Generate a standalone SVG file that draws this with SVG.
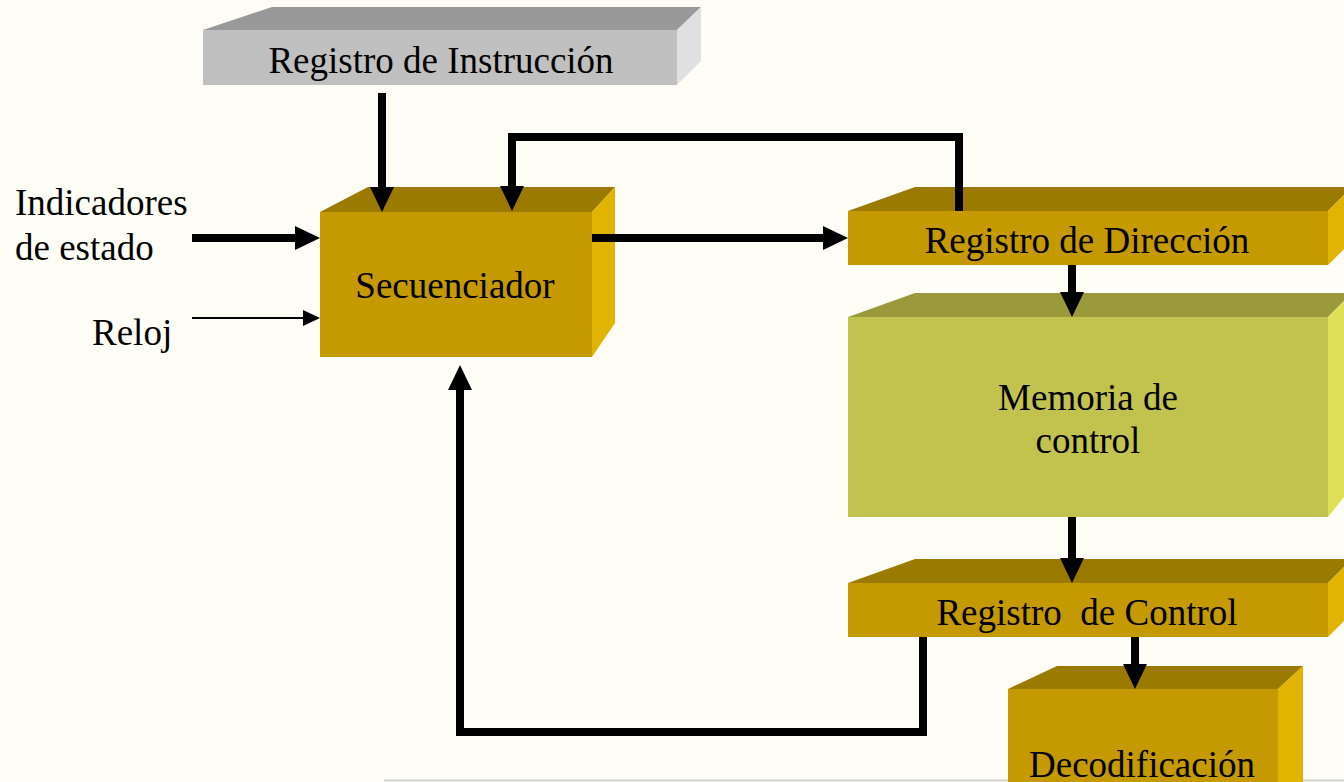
<svg xmlns="http://www.w3.org/2000/svg" width="1344" height="782" viewBox="0 0 1344 782">
<style>
text{font-family:"Liberation Serif","Times New Roman",serif;font-size:37px;fill:#000}
.c{text-anchor:middle}
.gt{fill:#999999}.gf{fill:#c0c0c0}.gr{fill:#e0e0e0}
.ot{fill:#9a7b00}.of{fill:#c49a00}.or{fill:#e0b400}
.yt{fill:#9a9a3c}.yf{fill:#c2c24e}.yr{fill:#e0e058}
.thick{fill:none;stroke:#000;stroke-width:8}
.thin{fill:none;stroke:#000;stroke-width:2}
</style>
<defs>
<marker id="ah" markerUnits="userSpaceOnUse" markerWidth="30" markerHeight="30" refX="0" refY="12" orient="auto" overflow="visible"><path d="M0,0 L25,12 L0,24 z" fill="#000"/></marker>
<marker id="ahs" markerUnits="userSpaceOnUse" markerWidth="20" markerHeight="20" refX="0" refY="8" orient="auto" overflow="visible"><path d="M0,0 L17,8 L0,16 z" fill="#000"/></marker>
</defs>
<rect width="1344" height="782" fill="#fefef6"/>
<line x1="384" y1="780.5" x2="1344" y2="780.5" stroke="#d0d0d0" stroke-width="2"/>

<g id="registro-instruccion">
<polygon class="gt" points="203,30 272,7 701,7 677,30"/>
<polygon class="gr" points="677,30 701,7 701,61 677,85"/>
<rect class="gf" x="203" y="30" width="474" height="55"/>
<text class="c" x="441" y="73">Registro de Instrucción</text>
</g>

<g id="secuenciador">
<polygon class="ot" points="320,212 368,187 615,187 592,212"/>
<polygon class="or" points="592,212 615,187 615,323 592,357"/>
<rect class="of" x="320" y="212" width="272" height="145"/>
<text class="c" x="455" y="298">Secuenciador</text>
</g>

<g id="registro-direccion">
<polygon class="ot" points="848,211 915,187 1352,187 1328,211"/>
<polygon class="or" points="1328,211 1352,187 1352,241 1328,265"/>
<rect class="of" x="848" y="211" width="480" height="54"/>
<text class="c" x="1087" y="253">Registro de Dirección</text>
</g>

<g id="memoria-control">
<polygon class="yt" points="848,317 915,293 1352,293 1328,317"/>
<polygon class="yr" points="1328,317 1352,293 1352,487 1328,517"/>
<rect class="yf" x="848" y="317" width="480" height="200"/>
<text class="c" x="1088" y="410">Memoria de</text>
<text class="c" x="1088" y="453">control</text>
</g>

<g id="registro-control">
<polygon class="ot" points="848,583 915,559 1352,559 1328,583"/>
<polygon class="or" points="1328,583 1352,559 1352,613 1328,637"/>
<rect class="of" x="848" y="583" width="480" height="54"/>
<text class="c" x="1087" y="625" xml:space="preserve">Registro  de Control</text>
</g>

<g id="decodificacion">
<polygon class="ot" points="1008,689 1057,666 1303,666 1278,689"/>
<polygon class="or" points="1278,689 1303,666 1303,782 1278,782"/>
<rect class="of" x="1008" y="689" width="270" height="93"/>
<text class="c" x="1142" y="777">Decodificación</text>
</g>

<g id="labels">
<text x="15" y="215">Indicadores</text>
<text x="15" y="260">de estado</text>
<text x="92" y="345">Reloj</text>
</g>

<g id="connectors">
<line class="thick" x1="192" y1="238" x2="295" y2="238" marker-end="url(#ah)"/>
<line class="thin" x1="192" y1="318" x2="303" y2="318" marker-end="url(#ahs)"/>
<line class="thick" x1="382" y1="93" x2="382" y2="187" marker-end="url(#ah)"/>
<path class="thick" d="M959,211 V137 H512 V186" marker-end="url(#ah)"/>
<line class="thick" x1="592" y1="238" x2="823" y2="238" marker-end="url(#ah)"/>
<line class="thick" x1="1072" y1="265" x2="1072" y2="292" marker-end="url(#ah)"/>
<line class="thick" x1="1072" y1="517" x2="1072" y2="558" marker-end="url(#ah)"/>
<line class="thick" x1="1135" y1="637" x2="1135" y2="664" marker-end="url(#ah)"/>
<path class="thick" d="M923,637 V732 H460 V390" marker-end="url(#ah)"/>
</g>
</svg>
